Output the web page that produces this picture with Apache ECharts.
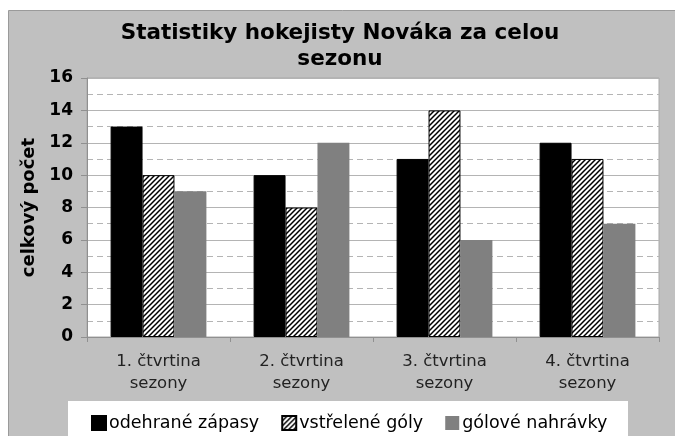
<!DOCTYPE html>
<html>
<head>
<meta charset="utf-8">
<script src="https://cdn.jsdelivr.net/npm/echarts@6/dist/echarts.min.js"></script>
<style>
html, body { margin: 0; padding: 0; background: #fff; }
#chart { width: 675px; height: 436px; }
</style>
</head>
<body>
<div id="chart"></div>
<script>
// data
var categories = ['1. čtvrtina\nsezony', '2. čtvrtina\nsezony', '3. čtvrtina\nsezony', '4. čtvrtina\nsezony'];
var seriesNames = ['odehrané zápasy', 'vstřelené góly', 'gólové nahrávky'];
var odehraneZapasy = [13, 10, 11, 12];
var vstreleneGoly = [10, 8, 14, 11];
var goloveNahravky = [9, 12, 6, 7];

// hatch pattern for the second series
function makeHatch() {
	var c = document.createElement('canvas');
	c.width = 5; c.height = 5;
	var ctx = c.getContext('2d');
	ctx.fillStyle = '#fff';
	ctx.fillRect(0, 0, 5, 5);
	ctx.strokeStyle = '#000';
	ctx.lineWidth = 1.5;
	ctx.beginPath();
	ctx.moveTo(-1, 6); ctx.lineTo(6, -1);
	ctx.moveTo(-1, 1); ctx.lineTo(1, -1);
	ctx.moveTo(4, 6); ctx.lineTo(6, 4);
	ctx.stroke();
	return c;
}

var chart = echarts.init(document.getElementById('chart'));
var font = 'DejaVu Sans';

var option = {
	animation: false,
	backgroundColor: '#fff',
	graphic: [
		{ type: 'rect', z: -10, shape: { x: 8.5, y: 10.5, width: 680, height: 440 },
		  style: { fill: '#c0c0c0', stroke: '#9a9a9a', lineWidth: 1 } },
		{ type: 'rect', z: -5, shape: { x: 68, y: 401, width: 560, height: 40 },
		  style: { fill: '#fff' } },
		{ type: 'text', x: 340, y: 20,
		  style: { text: 'Statistiky hokejisty Nováka za celou\nsezonu', align: 'center',
			font: 'bold 21.5px "DejaVu Sans"', fill: '#000', lineHeight: 26 } }
	],
	grid: {
		left: 87, right: 16, top: 78, bottom: 99,
		show: true, backgroundColor: '#fff', borderColor: '#a8a8a8', borderWidth: 1
	},
	legend: {
		data: seriesNames,
		left: 86, top: 409,
		itemWidth: 14, itemHeight: 14, itemGap: 22,
		icon: 'rect',
		textStyle: { fontFamily: font, fontSize: 17.5, color: '#000', padding: [0, 0, 0, -2] }
	},
	xAxis: {
		type: 'category',
		data: categories,
		axisLine: { lineStyle: { color: '#909090' } },
		axisTick: { show: true, length: 5, lineStyle: { color: '#909090' } },
		axisLabel: { fontFamily: font, fontSize: 16.5, color: '#222', margin: 14, lineHeight: 22 }
	},
	yAxis: {
		type: 'value',
		min: 0, max: 16, interval: 2,
		name: 'celkový počet',
		nameLocation: 'middle',
		nameGap: 48,
		nameTextStyle: { fontFamily: font, fontSize: 18, fontWeight: 'bold', color: '#000' },
		axisLine: { show: true, lineStyle: { color: '#909090' } },
		axisTick: { show: true, length: 6, lineStyle: { color: '#909090' } },
		axisLabel: { fontFamily: font, fontSize: 17, fontWeight: 'bold', color: '#000', margin: 14 },
		splitLine: { lineStyle: { color: '#b4b4b4', width: 1 } },
		minorTick: { show: false, splitNumber: 2 },
		minorSplitLine: { show: true, lineStyle: { color: '#b4b4b4', type: [6, 4], width: 1 } }
	},
	series: [
		{ name: seriesNames[0], type: 'bar', data: odehraneZapasy, barGap: '0%', barCategoryGap: '33%',
		  itemStyle: { color: '#000', borderColor: '#000', borderWidth: 1 } },
		{ name: seriesNames[1], type: 'bar', data: vstreleneGoly,
		  itemStyle: { color: { image: makeHatch(), repeat: 'repeat' }, borderColor: '#000', borderWidth: 1 } },
		{ name: seriesNames[2], type: 'bar', data: goloveNahravky,
		  itemStyle: { color: '#808080' } }
	]
};
chart.setOption(option);
</script>
</body>
</html>
